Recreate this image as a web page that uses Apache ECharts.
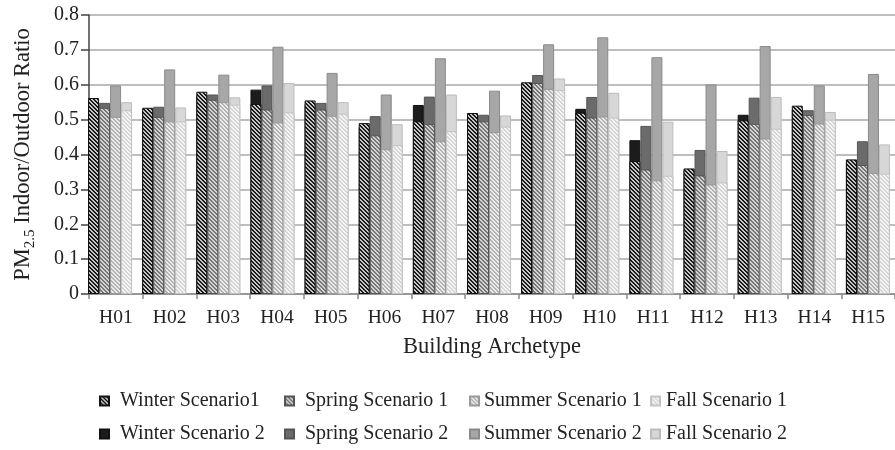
<!DOCTYPE html>
<html style="height: 100%; margin: 0">
<head>
<meta charset="UTF-8">
<title>PM2.5 Indoor/Outdoor Ratio</title>
</head>
<body style="height: 100%; margin: 0; background: #fff">
<div id="container" style="width: 895px; height: 450px"></div>
<script type="text/javascript" src="https://cdn.jsdelivr.net/npm/echarts@6/dist/echarts.min.js"></script>
<script type="text/javascript">
	var categories = ['H01','H02','H03','H04','H05','H06','H07','H08','H09','H10','H11','H12','H13','H14','H15'];
	var yTicks = [0, 0.1, 0.2, 0.3, 0.4, 0.5, 0.6, 0.7, 0.8];

	// scenario 1 (hatched, drawn in front)
	var winter1 = [0.562,0.534,0.580,0.545,0.555,0.490,0.495,0.519,0.607,0.520,0.381,0.360,0.498,0.540,0.386];
	var spring1 = [0.534,0.508,0.557,0.529,0.529,0.455,0.487,0.495,0.605,0.506,0.357,0.340,0.488,0.513,0.370];
	var summer1 = [0.508,0.495,0.550,0.492,0.511,0.415,0.438,0.464,0.588,0.509,0.326,0.314,0.446,0.489,0.347];
	var fall1   = [0.527,0.495,0.543,0.521,0.517,0.427,0.467,0.480,0.585,0.506,0.339,0.320,0.474,0.500,0.345];

	// scenario 2 (solid, drawn behind)
	var winter2 = [0.550,0.525,0.570,0.586,0.545,0.480,0.542,0.510,0.600,0.531,0.441,0.355,0.514,0.530,0.380];
	var spring2 = [0.548,0.537,0.572,0.598,0.548,0.510,0.566,0.514,0.628,0.565,0.482,0.413,0.563,0.527,0.438];
	var summer2 = [0.598,0.644,0.629,0.709,0.634,0.572,0.676,0.583,0.716,0.736,0.679,0.601,0.711,0.598,0.631];
	var fall2   = [0.550,0.535,0.564,0.605,0.550,0.487,0.572,0.512,0.618,0.577,0.494,0.410,0.565,0.522,0.429];

	var font = 'Liberation Serif';

	function hatch(bg, fg) {
		var c = document.createElement('canvas');
		c.width = 4; c.height = 4;
		var ctx = c.getContext('2d');
		ctx.fillStyle = bg;
		ctx.fillRect(0, 0, 4, 4);
		ctx.fillStyle = fg;
		for (var y = 0; y < 4; y++) {
			for (var x = 0; x < 4; x++) {
				if (((x - y) % 4 + 4) % 4 < 2) ctx.fillRect(x, y, 1, 1);
			}
		}
		return { image: c, repeat: 'repeat' };
	}

	function bar(name, axis, data, color, border) {
		return {
			name: name,
			type: 'bar',
			xAxisIndex: axis,
			yAxisIndex: 1,
			barWidth: 11,
			barGap: 0,
			data: data,
			itemStyle: { color: color, borderColor: border, borderWidth: 1 }
		};
	}

	function legendCol(left, pad, names) {
		return {
			orient: 'vertical',
			left: left,
			top: 386,
			itemWidth: 9,
			itemHeight: 9,
			itemGap: 13,
			icon: 'rect',
			selectedMode: false,
			data: names,
			textStyle: { fontFamily: font, fontSize: 20, color: '#222', padding: [0, 0, 0, pad] }
		};
	}

	var dom = document.getElementById("container");
	var myChart = echarts.init(dom);
	var option = {
		animation: false,
		backgroundColor: '#fff',
		grid: [
			{ left: 87, top: 15, width: 818, height: 279 },
			{ left: 83, top: 15, width: 818, height: 279 }
		],
		legend: [
			legendCol(94, 6, ['Winter Scenario1', 'Winter Scenario 2']),
			legendCol(279, 6, ['Spring Scenario 1', 'Spring Scenario 2']),
			legendCol(464, 0, ['Summer Scenario 1', 'Summer Scenario 2']),
			legendCol(645, 1, ['Fall Scenario 1', 'Fall Scenario 2'])
		],
		xAxis: [
			{
				type: 'category',
				gridIndex: 0,
				data: categories,
				name: 'Building Archetype',
				nameLocation: 'middle',
				nameGap: 42,
				nameTextStyle: { fontFamily: font, fontSize: 22.5, color: '#222' },
				axisLine: { lineStyle: { color: '#8a8a8a', width: 1.5 } },
				axisTick: { show: true, length: 5, lineStyle: { color: '#8a8a8a', width: 1.5 } },
				axisLabel: { fontFamily: font, fontSize: 19.5, color: '#222', margin: 14 }
			},
			{ type: 'category', gridIndex: 1, data: categories, show: false },
			{ type: 'category', gridIndex: 1, data: categories, show: false }
		],
		yAxis: [
			{
				type: 'value',
				gridIndex: 0,
				min: 0,
				max: 0.8,
				interval: 0.1,
				name: '{a|PM}{s|2.5}{a| Indoor/Outdoor Ratio}',
				nameLocation: 'middle',
				nameGap: 53,
				nameTextStyle: {
					color: '#222',
					rich: {
						a: { fontFamily: font, fontSize: 22.5, color: '#222', lineHeight: 26 },
						s: { fontFamily: font, fontSize: 15, color: '#222', lineHeight: 15, padding: [15, 0, 0, 0] }
					}
				},
				axisLine: { show: true, lineStyle: { color: '#444', width: 1.5 } },
				axisTick: { show: true, length: 8, lineStyle: { color: '#444', width: 1.5 } },
				axisLabel: {
					fontFamily: font, fontSize: 20, color: '#222', margin: 10,
					formatter: function (v) {
						var t = yTicks.filter(function (k) { return Math.abs(k - v) < 1e-6; })[0];
						return t === 0 ? '0' : String(t);
					}
				},
				splitLine: { lineStyle: { color: '#a8a8a8', width: 1.5 } }
			},
			{ type: 'value', gridIndex: 1, min: 0, max: 0.8, show: false }
		],
		series: [
			bar('Winter Scenario 2', 1, winter2, '#1c1c1c', '#111'),
			bar('Spring Scenario 2', 1, spring2, '#6b6b6b', '#555'),
			bar('Summer Scenario 2', 1, summer2, '#a7a7a7', '#8a8a8a'),
			bar('Fall Scenario 2', 1, fall2, '#d7d7d7', '#bcbcbc'),
			bar('Winter Scenario1', 2, winter1, hatch('#1a1a1a', '#c8c8c8'), '#111'),
			bar('Spring Scenario 1', 2, spring1, hatch('#777777', '#d4d4d4'), '#555'),
			bar('Summer Scenario 1', 2, summer1, hatch('#b3b3b3', '#ebebeb'), '#999'),
			bar('Fall Scenario 1', 2, fall1, hatch('#d6d6d6', '#f4f4f4'), '#c4c4c4')
		]
	};
	if (option && typeof option === "object") {
	    myChart.setOption(option, true);
	}
</script>
</body>
</html>
